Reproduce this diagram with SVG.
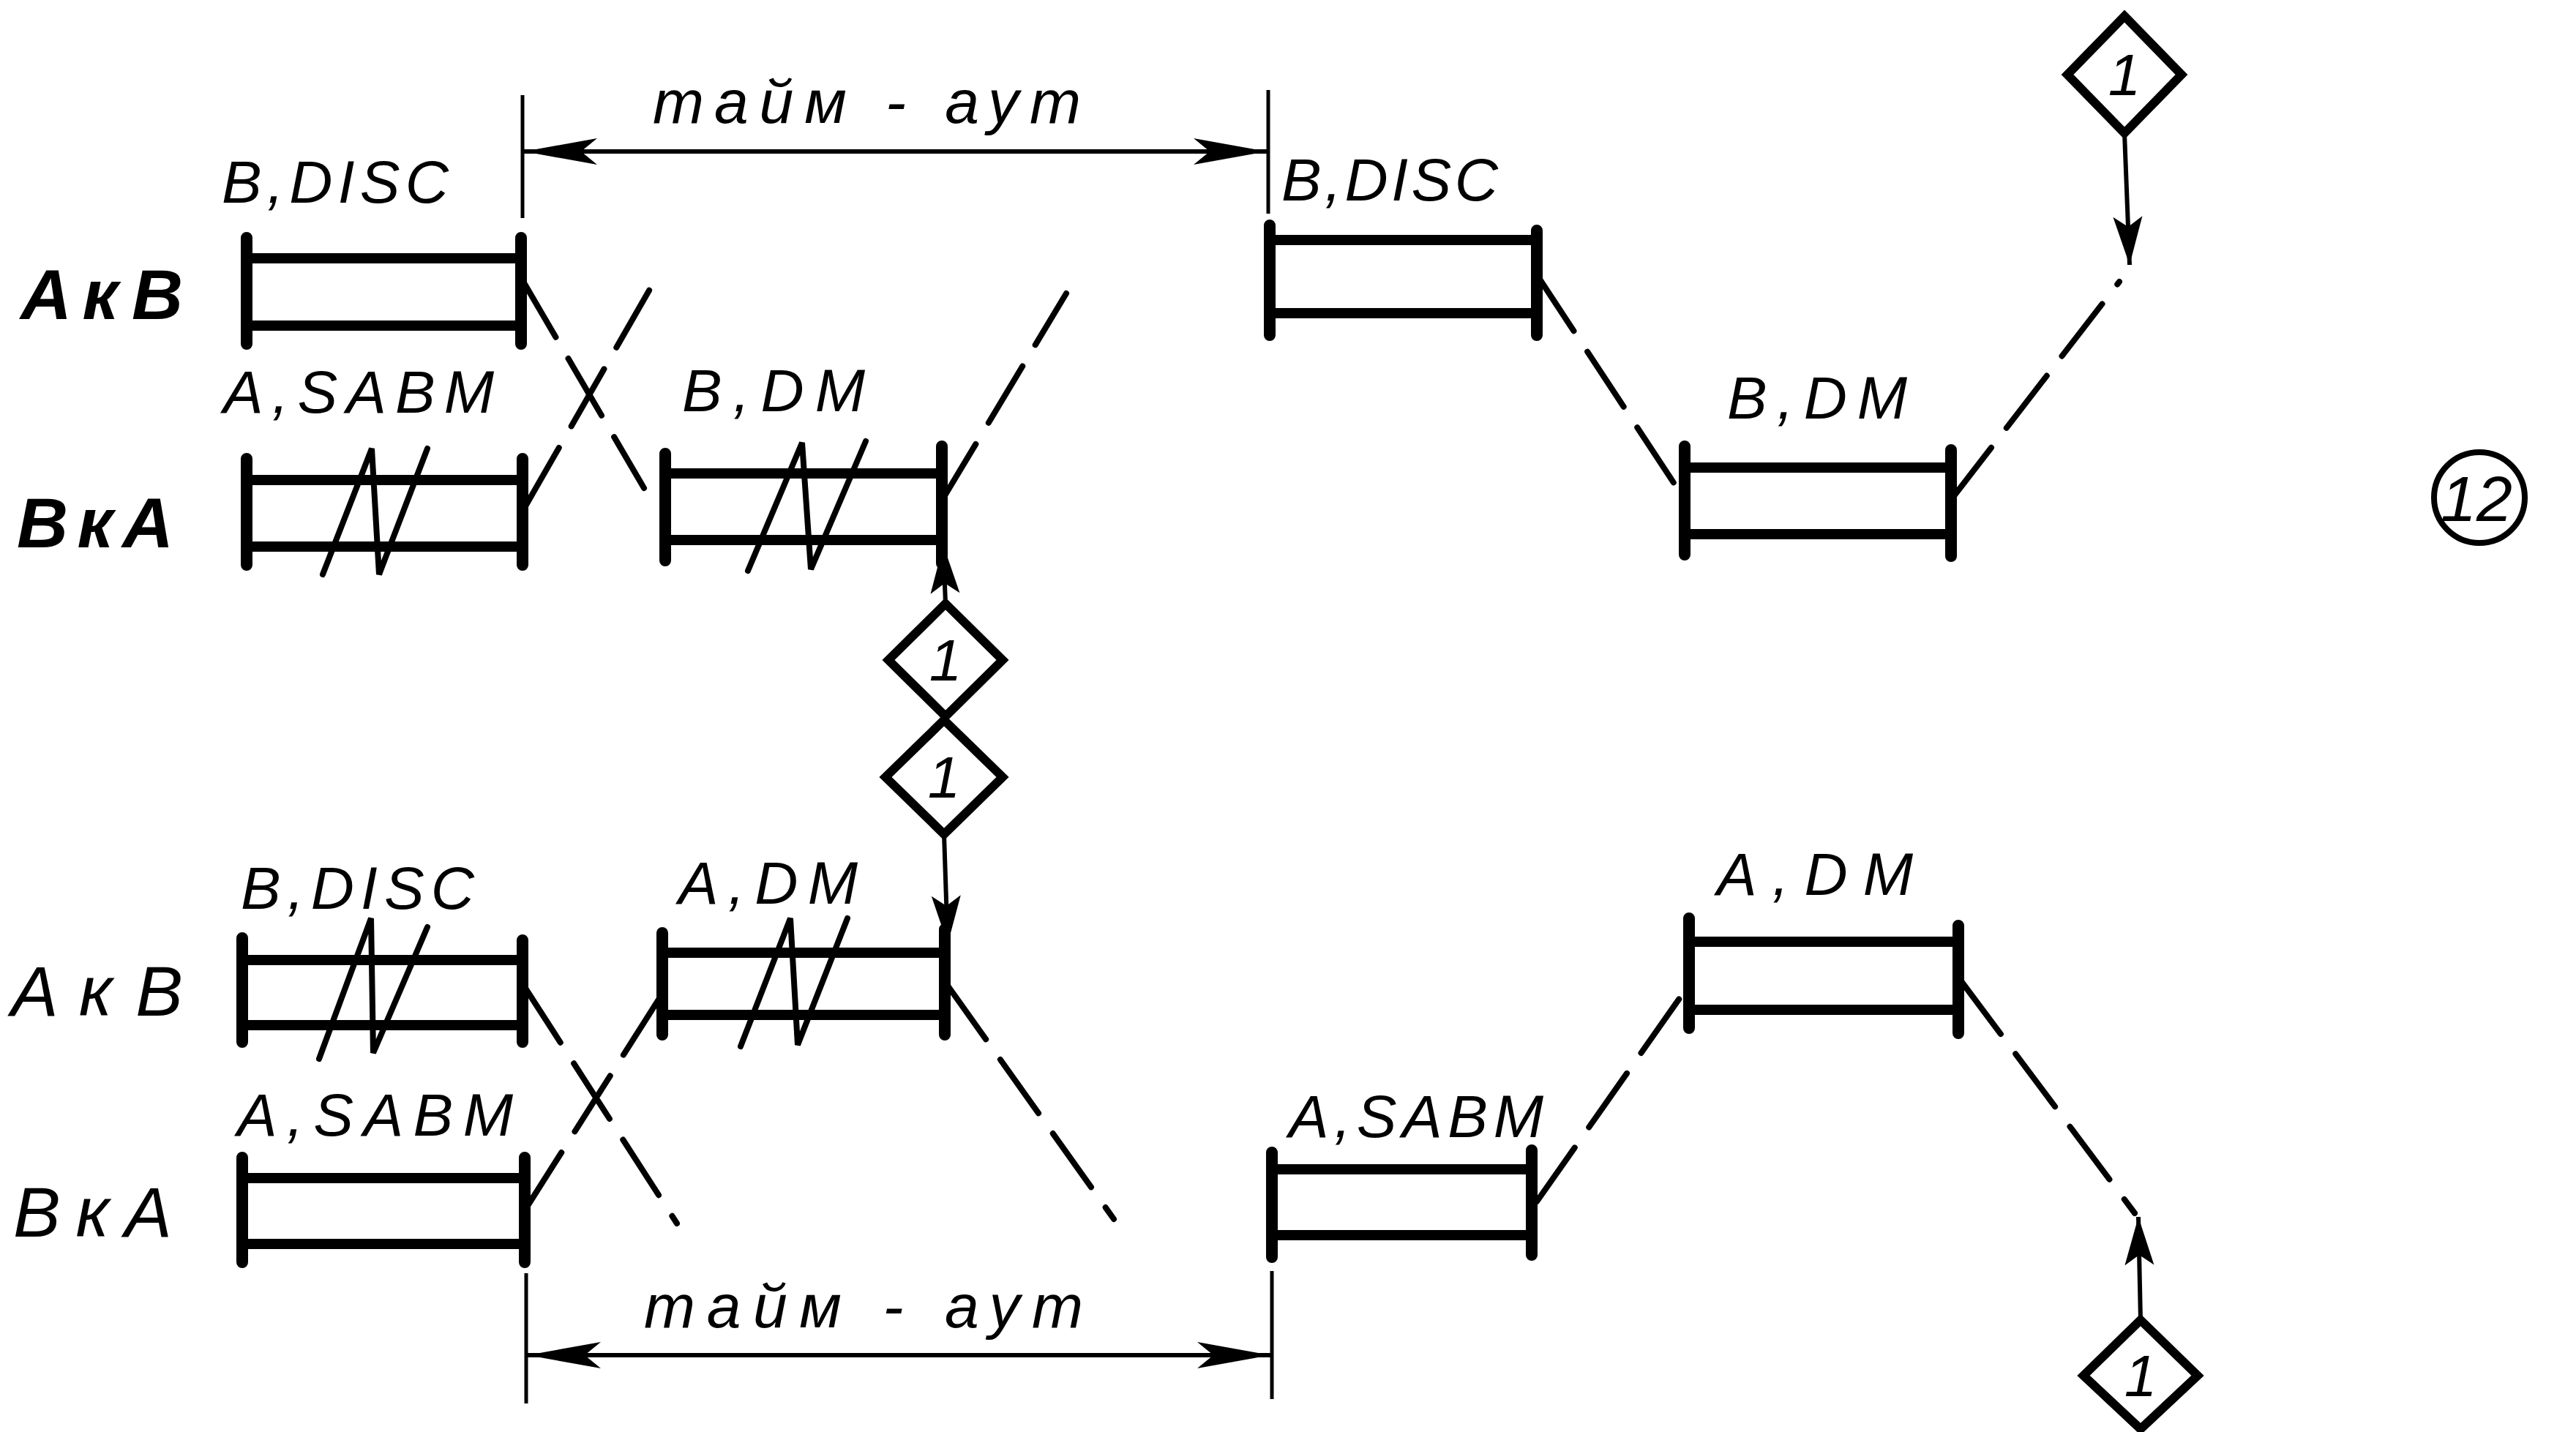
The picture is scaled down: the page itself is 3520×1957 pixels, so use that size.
<svg xmlns="http://www.w3.org/2000/svg" width="3520" height="1957" viewBox="0 0 3520 1957">
<style>
.rail{stroke:#000;stroke-width:14;fill:none}
.bar{stroke:#000;stroke-width:16;fill:none;stroke-linecap:round}
.hatch{stroke:#000;stroke-width:8;fill:none;stroke-linejoin:miter;stroke-linecap:round}
.dash{stroke:#000;stroke-width:8;fill:none;stroke-dasharray:90 34;stroke-linecap:round}
.thin{stroke:#000;stroke-width:5;fill:none}
.shaft{stroke:#000;stroke-width:6;fill:none}
.dia{stroke:#000;stroke-width:12;fill:#fff;stroke-linejoin:miter}
.t{font-family:"Liberation Sans",Arial,sans-serif;font-style:italic;fill:#000}
.lbl{font-size:82px}
.row{font-size:97px}
.rowb{font-size:97px;font-weight:bold}
.tm{font-size:84px}
.num{font-size:80px;text-anchor:middle}
</style>
<defs>
<marker id="ah" viewBox="0 0 100 40" refX="100" refY="20" markerWidth="100" markerHeight="40" markerUnits="userSpaceOnUse" orient="auto-start-reverse">
<path d="M0,2 L100,20 L0,38 L22,20 Z" fill="#000"/>
</marker>
<marker id="av" viewBox="0 0 66 44" refX="66" refY="22" markerWidth="66" markerHeight="44" markerUnits="userSpaceOnUse" orient="auto">
<path d="M0,2 L66,22 L0,42 L14,22 Z" fill="#000"/>
</marker>
</defs>
<rect width="3520" height="1957" fill="#fff"/>

<g id="row-labels">
<text class="t rowb" x="28" y="436" textLength="222" lengthAdjust="spacing">A к B</text>
<text class="t rowb" x="23" y="748" textLength="214" lengthAdjust="spacing">B к A</text>
<text class="t row" x="15" y="1388" textLength="235" lengthAdjust="spacing">A к B</text>
<text class="t row" x="18" y="1690" textLength="217" lengthAdjust="spacing">B к A</text>
</g>

<g id="box-u1">
<path class="rail" d="M337,353H712M337,445H712"/>
<path class="bar" d="M337,325V470M712,325V470"/>
<text class="t lbl" x="303" y="277" textLength="310" lengthAdjust="spacing">B,DISC</text>
</g>
<g id="box-u2">
<path class="rail" d="M337,656H714M337,747H714"/>
<path class="bar" d="M337,627V772M714,627V772"/>
<path class="hatch" d="M441,785L508,613L518,785L584,613"/>
<text class="t lbl" x="305" y="564" textLength="370" lengthAdjust="spacing">A,SABM</text>
</g>
<g id="box-u3">
<path class="rail" d="M909,647H1287M909,738H1287"/>
<path class="bar" d="M909,620V766M1287,610V770"/>
<path class="hatch" d="M1022,780L1096,605L1108,778L1183,603"/>
<text class="t lbl" x="932" y="562" textLength="250" lengthAdjust="spacing">B,DM</text>
</g>
<g id="box-u4">
<path class="rail" d="M1735,328H2100M1735,428H2100"/>
<path class="bar" d="M1735,308V458M2100,315V458"/>
<text class="t lbl" x="1751" y="274" textLength="296" lengthAdjust="spacing">B,DISC</text>
</g>
<g id="box-u5">
<path class="rail" d="M2302,639H2666M2302,730H2666"/>
<path class="bar" d="M2302,610V758M2666,615V760"/>
<text class="t lbl" x="2360" y="572" textLength="246" lengthAdjust="spacing">B,DM</text>
</g>

<g id="box-l1">
<path class="rail" d="M331,1312H714M331,1401H714"/>
<path class="bar" d="M331,1282V1424M714,1285V1424"/>
<path class="hatch" d="M436,1447L507,1255L510,1439L584,1267"/>
<text class="t lbl" x="329" y="1242" textLength="319" lengthAdjust="spacing">B,DISC</text>
</g>
<g id="box-l2">
<path class="rail" d="M905,1302H1291M905,1387H1291"/>
<path class="bar" d="M905,1275V1414M1291,1270V1414"/>
<path class="hatch" d="M1012,1430L1080,1255L1090,1428L1158,1255"/>
<text class="t lbl" x="927" y="1235" textLength="245" lengthAdjust="spacing">A,DM</text>
</g>
<g id="box-l3">
<path class="rail" d="M331,1610H717M331,1700H717"/>
<path class="bar" d="M331,1582V1725M717,1582V1725"/>
<text class="t lbl" x="324" y="1552" textLength="377" lengthAdjust="spacing">A,SABM</text>
</g>
<g id="box-l4">
<path class="rail" d="M2308,1287H2676M2308,1380H2676"/>
<path class="bar" d="M2308,1255V1405M2676,1265V1412"/>
<text class="t lbl" x="2346" y="1223" textLength="268" lengthAdjust="spacing">A,DM</text>
</g>
<g id="box-l5">
<path class="rail" d="M1738,1598H2093M1738,1688H2093"/>
<path class="bar" d="M1738,1575V1718M2093,1572V1715"/>
<text class="t lbl" x="1761" y="1554" textLength="348" lengthAdjust="spacing">A,SABM</text>
</g>

<g id="diamond-1a">
<path class="dia" d="M1292,825L1370,902L1292,979L1214,902Z"/>
<text class="t num" x="1292" y="930">1</text>
</g>
<g id="diamond-1b">
<path class="dia" d="M1290,984L1370,1062L1290,1140L1210,1062Z"/>
<text class="t num" x="1290" y="1090">1</text>
</g>
<g id="diamond-1c">
<path class="dia" d="M2903,22L2981,102L2903,182L2825,102Z"/>
<text class="t num" x="2903" y="130">1</text>
</g>
<g id="diamond-1d">
<path class="dia" d="M2925,1804L3003,1880L2925,1953L2847,1880Z"/>
<text class="t num" x="2925" y="1908">1</text>
</g>

<g id="figure-number">
<circle cx="3388" cy="680" r="62" fill="none" stroke="#000" stroke-width="8"/>
<text class="t" x="3384" y="712" font-size="88" text-anchor="middle">12</text>
</g>

<g id="connectors">
<path class="dash" d="M714,383L880,667"/>
<path class="dash" d="M719,690L895,383"/>
<path class="dash" d="M1287,684L1457,401"/>
<path class="dash" d="M2101,377L2299,678"/>
<path class="dash" d="M2666,683L2896,385"/>
<path class="dash" d="M717,1349L925,1672"/>
<path class="dash" d="M719,1651L905,1358"/>
<path class="dash" d="M1295,1347L1522,1666"/>
<path class="dash" d="M2100,1642L2310,1343"/>
<path class="dash" d="M2680,1341L2917,1658"/>

<path class="shaft" d="M1292,825L1289,745" marker-end="url(#av)"/>
<path class="shaft" d="M1290,1140L1295,1290" marker-end="url(#av)"/>
<path class="shaft" d="M2903,182L2910,362" marker-end="url(#av)"/>
<path class="shaft" d="M2925,1804L2922,1663" marker-end="url(#av)"/>

<path class="thin" d="M714,130V298M1733,123V292"/>
<path class="shaft" d="M716,207H1731" marker-start="url(#ah)" marker-end="url(#ah)"/>
<text class="t tm" x="892" y="168" textLength="585" lengthAdjust="spacing">тайм - аут</text>

<path class="thin" d="M719,1740V1918M1738,1737V1912"/>
<path class="shaft" d="M721,1852H1736" marker-start="url(#ah)" marker-end="url(#ah)"/>
<text class="t tm" x="880" y="1814" textLength="600" lengthAdjust="spacing">тайм - аут</text>
</g>
</svg>
